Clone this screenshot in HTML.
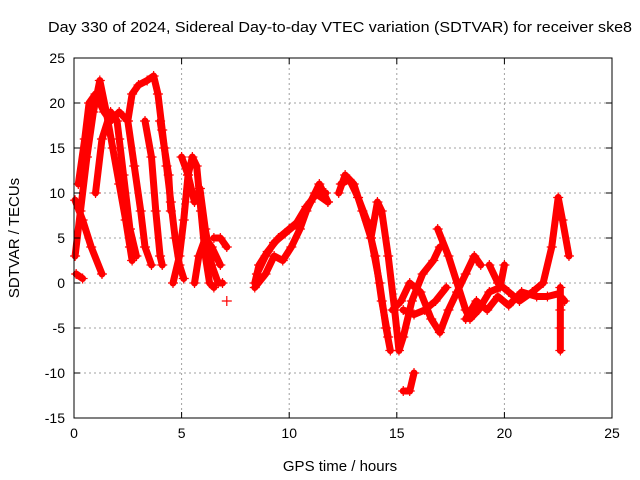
<!DOCTYPE html>
<html><head><meta charset="utf-8"><style>
body{margin:0;background:#fff}
svg{display:block;font-family:"Liberation Sans",sans-serif}
</style></head><body>
<svg id="chart" width="640" height="480" xmlns="http://www.w3.org/2000/svg">
<text x="48" y="32" font-size="15" textLength="584" lengthAdjust="spacingAndGlyphs">Day 330 of 2024, Sidereal Day-to-day VTEC variation (SDTVAR) for receiver ske8</text>
<text x="340" y="471" font-size="15" text-anchor="middle">GPS time / hours</text>
<text x="19" y="238" font-size="15" text-anchor="middle" transform="rotate(-90 19 238)">SDTVAR / TECUs</text>
<g id="grid"></g><g id="marks"></g><g id="axes"></g>
</svg>
<script>
const xTicks=[0,5,10,15,20,25];
const yTicks=[-15,-10,-5,0,5,10,15,20,25];
const track1=[[0.05,3],[0.3,8],[0.6,14],[0.9,19],[1.2,22.5],[1.5,19],[1.8,15],[2.1,11],[2.4,7],[2.6,4],[2.7,2.5]];
const track2=[[0.05,9.2],[0.4,7],[0.8,4],[1.3,1]];
const track3=[[0.1,1],[0.4,0.5]];
const track4=[[0.2,11],[0.5,16],[0.7,20],[1.0,21],[1.4,19],[1.7,18],[2.1,19],[2.5,18],[2.8,13],[3.1,8],[3.3,4],[3.6,2]];
const track5=[[1.0,10],[1.3,16],[1.7,19],[2.0,18],[2.1,16],[2.3,12],[2.6,6],[2.9,3]];
const track6=[[2.5,18],[2.7,21],[3.0,22],[3.4,22.5],[3.7,23],[3.9,21],[4.1,17],[4.3,13],[4.5,9],[4.7,5],[4.9,2],[5.1,0.5]];
const track7=[[3.3,18],[3.6,14],[3.8,8],[4.0,3],[4.1,2]];
const track8=[[4.0,18],[4.2,15],[4.4,12],[4.5,8]];
const track9=[[4.6,0],[4.9,3],[5.1,7],[5.3,12],[5.5,14],[5.7,13],[5.9,8],[6.1,3],[6.3,0],[6.5,-0.5]];
const track10=[[5.0,14],[5.3,12],[5.6,9],[5.85,10.5],[6.1,6],[6.4,2],[6.7,0],[6.9,0]];
const track11=[[5.6,0],[5.8,3],[6.1,5],[6.4,4],[6.8,2]];
const track12=[[6.5,5],[6.8,5],[7.1,4]];
const track13=[[8.4,0],[8.6,2],[9.0,3.5],[9.5,5],[10,6],[10.5,7],[11,9],[11.4,11],[11.8,9]];
const track14=[[8.4,-0.5],[8.9,1],[9.3,3],[9.7,2.5],[10.1,4],[10.5,6],[10.8,8],[11.2,10],[11.8,9]];
const track14b=[[8.5,1],[8.9,3],[9.3,4.5],[9.8,5.5],[10.3,6.5],[10.8,8.5],[11.3,10],[11.7,10]];
const track15=[[12.3,10],[12.6,12],[13,11],[13.4,8],[13.8,5],[14.2,0],[14.5,-5],[14.7,-7.5]];
const track15b=[[12.4,11],[12.8,11.5],[13.2,9.5],[13.6,7],[14.0,3],[14.3,-2],[14.6,-6]];
const track16=[[13.8,5],[14.1,9],[14.3,8],[14.6,3],[14.9,-3],[15.1,-7.5],[15.3,-6],[15.7,-2],[16.2,1],[16.7,2.5],[17,4]];
const track17=[[14.8,-3],[15.2,-2],[15.6,0],[16.1,-1],[16.6,-4],[17,-5.5],[17.4,-3],[17.8,-1],[18.2,1],[18.6,3],[18.9,2]];
const track18=[[16.9,6],[17.4,3],[17.8,0],[18.2,-3],[18.4,-4],[18.8,-3],[19.3,-1],[19.8,-0.5],[20.0,2]];
const track19=[[15.3,-12],[15.6,-12],[15.8,-10]];
const track20=[[15.3,-3],[15.8,-3.5],[16.3,-3],[16.8,-2],[17.3,-0.5]];
const track21=[[19.3,2],[19.7,0],[20.2,-1],[20.7,-2],[21.3,-1],[21.8,0],[22.2,4],[22.5,9.5],[22.7,7],[23.0,3]];
const track22=[[18.2,-4],[18.7,-2],[19.2,-3],[19.7,-1.5],[20.2,-2.5],[20.8,-1],[21.5,-1.5],[22,-1.5],[22.5,-1.2],[22.8,-2]];
const track23=[[22.6,-0.5],[22.6,-3],[22.6,-5],[22.6,-7.5]];
const track24=[[7.1,-2]];
const tracks=[track1,track2,track3,track4,track5,track6,track7,track8,track9,track10,track11,track12,track13,track14,track14b,track15,track15b,track16,track17,track18,track19,track20,track21,track22,track23,track24];
const X0=74,X1=612,Y0=418,Y1=58;
const xs=v=>X0+(v-0)/25*(X1-X0);
const ys=v=>Y0-(v+15)/40*(Y0-Y1);
const NS="http://www.w3.org/2000/svg";
function mk(t,a,p){const e=document.createElementNS(NS,t);for(const k in a)e.setAttribute(k,a[k]);p.appendChild(e);return e;}
const grid=document.getElementById('grid'),axes=document.getElementById('axes'),marks=document.getElementById('marks');
xTicks.forEach(t=>{const x=xs(t);
 if(t>0&&t<25){const g=mk('line',{x1:x,x2:x,y1:Y1,y2:Y0,stroke:'#a0a0a0','stroke-dasharray':'2,3'},grid);
 
 }
 mk('line',{x1:x,x2:x,y1:Y0,y2:Y0-6,stroke:'#000'},axes);mk('line',{x1:x,x2:x,y1:Y1,y2:Y1+6,stroke:'#000'},axes);
 const l=mk('text',{x:x,y:Y0+20,'font-size':14,'text-anchor':'middle'},axes);l.textContent=t;
 
 });
yTicks.forEach(t=>{const y=ys(t);
 if(t>-15&&t<25){const g=mk('line',{x1:X0,x2:X1,y1:y,y2:y,stroke:'#a0a0a0','stroke-dasharray':'2,3'},grid);
 
 }
 mk('line',{x1:X0,x2:X0+6,y1:y,y2:y,stroke:'#000'},axes);mk('line',{x1:X1,x2:X1-6,y1:y,y2:y,stroke:'#000'},axes);
 const l=mk('text',{x:X0-9,y:y+5,'font-size':14,'text-anchor':'end'},axes);l.textContent=t;
 
 });
const frame=mk('rect',{x:X0,y:Y1,width:X1-X0,height:Y0-Y1,fill:'none',stroke:'#000'},axes);


tracks.forEach(tr=>{
 const pl=mk('polyline',{points:tr.map(p=>xs(p[0])+','+ys(p[1])).join(' '),fill:'none',stroke:'#ff0000','stroke-width':7,'stroke-linejoin':'round','stroke-linecap':'round'},marks);
 
 
 tr.forEach(p=>{const x=xs(p[0]),y=ys(p[1]);
  const m=mk('path',{d:`M${x-5},${y}H${x+5}M${x},${y-5}V${y+5}`,stroke:'#ff0000','stroke-width':1.2},marks);
  
  });
});
</script>
</body></html>
